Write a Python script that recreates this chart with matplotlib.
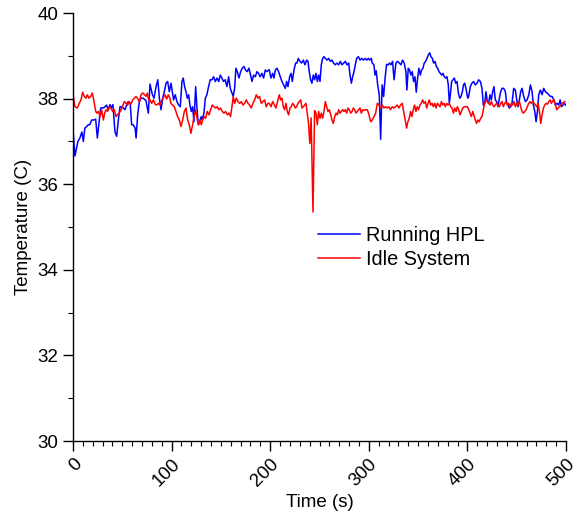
import matplotlib
matplotlib.use("Agg")
import matplotlib.pyplot as plt
from matplotlib.ticker import MultipleLocator

plt.rcParams['font.family'] = ['Liberation Sans', 'DejaVu Sans']

# temperature log while running HPL
time_hpl = [0, 2, 5, 7, 9, 10.5, 12, 14, 15.5, 17, 19, 21, 23, 24.7, 26.5, 28, 29, 31, 32.5, 34,
            35.8, 37.5, 39, 40.5, 42.6, 44.3, 46, 47.7, 49.4, 51, 52.7, 54.4, 56, 58, 59.5, 61, 63, 64,
            65.6, 67.3, 69, 71.3, 74, 76.4, 78.1, 80.5, 82.2, 84.2, 86, 87.6, 89.3, 91, 92.6, 94.3, 96,
            97.7, 99.4, 101, 102, 103.7, 105.4, 107.1, 108.8, 110.5, 111.8, 113.2, 114.9, 115.9, 117.3,
            118.6, 120, 121.3, 122.7, 124.4, 125.7, 127.1, 128.4, 130.1, 131.1, 132.8, 134.2, 135.8,
            137.5, 139.2, 140.9, 142.6, 144.3, 146, 147.7, 149.4, 151, 152.7, 154.4, 156.1, 157.8,
            159.5, 161.2, 162.5, 163.9, 165.2, 166.6, 168.3, 170, 171.7, 173.4, 175, 176.7, 178.4,
            180.1, 181.5, 183.2, 184.9, 186.5, 188.2, 189.9, 191.6, 193.3, 195, 196.7, 198.4, 199.1,
            200.8, 202.5, 203.8, 205.2, 206.9, 208.5, 210.2, 211.9, 213.6, 215.3, 216.7, 218, 219.7,
            221.1, 222.4, 224.1, 225.8, 227.1, 228.5, 230.2, 231.9, 233.6, 235.2, 236.9, 238.3, 239.6,
            241, 242.3, 243.7, 245, 246.4, 247.8, 249.1, 250.5, 251.8, 253.2, 254.5, 255.9, 257.6,
            259.3, 261, 262.6, 264.3, 266, 267.7, 269.4, 271.1, 272.8, 274.5, 276.2, 277.9, 279.6,
            280.9, 282.3, 283.6, 285, 286.3, 287.7, 289.4, 291.1, 292.8, 294.5, 296.2, 297.9, 299.5,
            301, 302.5, 303.5, 305.2, 306.3, 307.5, 309, 310.6, 312, 313.5, 315, 316.5, 318, 319.7,
            321.1, 322.4, 324.1, 325.6, 327.5, 329.2, 330.9, 332.6, 334.2, 335.9, 337.6, 338.6, 340,
            341.3, 342.7, 344, 345.4, 346.8, 348.1, 349.5, 350.8, 352.2, 353.5, 354.9, 356.2, 357.6,
            359, 360.3, 361.7, 363, 364.4, 365.7, 367.1, 368.5, 369.8, 371.2, 372.5, 373.9, 375.2,
            376.6, 377.9, 379.3, 380.6, 381.6, 382.7, 384, 385.4, 386.7, 388.1, 389.5, 390.8, 392.2,
            393.5, 394.9, 396, 397.2, 398.5, 400.3, 401.3, 402.9, 404.6, 406.3, 408, 409.7, 411.4,
            413.1, 414.8, 416.1, 417.5, 418.8, 420.2, 421.5, 422.9, 424.2, 425.6, 426.9, 428.3, 429.6,
            431, 432.4, 433.7, 435.1, 436.8, 438.5, 439.8, 441.2, 442.5, 443.9, 445.2, 446.9, 448.6,
            450, 451.3, 452.7, 454, 455.4, 457.1, 458.8, 460.5, 462.2, 463.9, 465.6, 466.9, 468.3,
            469.6, 471, 472.3, 474, 475.7, 477.4, 479.1, 480.8, 482.5, 484.2, 485.9, 487.6, 489.2,
            490.9, 492.6, 494, 495.3, 497, 498.4, 499.7]
temp_hpl = [37.27, 36.66, 37.00, 37.08, 37.22, 37.00, 37.31, 37.35, 37.39, 37.39, 37.50, 37.50, 37.52,
            37.08, 37.46, 37.77, 37.79, 37.78, 37.81, 37.85, 37.74, 37.86, 37.79, 37.86, 37.22, 37.12,
            37.50, 37.81, 37.81, 37.78, 37.74, 37.85, 37.93, 37.89, 37.39, 37.39, 37.31, 37.08, 37.62,
            37.93, 38.01, 38.01, 37.95, 37.66, 38.34, 38.09, 38.01, 38.28, 38.44, 38.01, 37.74, 38.01,
            38.16, 38.36, 38.40, 38.16, 38.36, 38.13, 37.97, 38.09, 37.93, 37.85, 37.81, 38.40, 38.48,
            38.28, 38.13, 38.01, 38.09, 37.85, 37.70, 37.81, 37.46, 38.28, 37.78, 37.39, 37.46, 37.58,
            37.50, 37.66, 38.01, 38.09, 38.28, 38.44, 38.44, 38.51, 38.40, 38.48, 38.40, 38.55, 38.48,
            38.40, 38.44, 38.28, 38.51, 38.24, 38.13, 38.05, 38.24, 38.71, 38.63, 38.48, 38.63, 38.71,
            38.75, 38.67, 38.63, 38.71, 38.55, 38.40, 38.55, 38.51, 38.63, 38.59, 38.51, 38.59, 38.48,
            38.67, 38.63, 38.67, 38.67, 38.48, 38.59, 38.48, 38.67, 38.71, 38.63, 38.51, 38.40, 38.32,
            38.24, 38.40, 38.28, 38.51, 38.59, 38.40, 38.67, 38.83, 38.83, 38.94, 38.87, 38.83, 38.90,
            38.79, 38.90, 38.87, 38.63, 38.44, 38.36, 38.55, 38.44, 38.59, 38.40, 38.55, 38.40, 38.79,
            38.94, 38.98, 38.94, 38.90, 38.94, 38.87, 38.90, 38.83, 38.79, 38.83, 38.79, 38.87, 38.79,
            38.83, 38.87, 38.79, 38.83, 38.55, 38.36, 38.51, 38.63, 38.79, 38.94, 38.98, 38.90, 38.94,
            38.90, 38.94, 38.90, 38.94, 38.90, 38.94, 38.83, 38.79, 38.55, 38.65, 38.32, 38.09, 37.05,
            38.32, 38.05, 38.48, 38.80, 38.79, 38.83, 38.79, 38.87, 38.44, 38.83, 38.87, 38.83, 38.79,
            38.90, 38.83, 38.63, 38.20, 38.71, 38.67, 38.55, 38.63, 38.40, 38.51, 38.15, 38.48, 38.71,
            38.55, 38.67, 38.71, 38.83, 38.87, 38.94, 39.02, 39.07, 38.98, 38.94, 38.83, 38.87, 38.75,
            38.71, 38.63, 38.59, 38.55, 38.59, 38.51, 38.48, 38.51, 38.32, 37.90, 38.09, 38.40, 38.44,
            38.48, 38.36, 38.40, 38.13, 38.01, 38.05, 38.16, 38.32, 38.36, 38.24, 38.01, 38.05, 38.28,
            38.36, 38.40, 38.32, 38.36, 38.44, 38.40, 38.24, 37.85, 37.89, 38.16, 37.93, 37.89, 38.09,
            37.97, 38.16, 38.28, 37.97, 37.93, 37.81, 38.01, 38.16, 38.24, 38.24, 38.16, 37.89, 37.85,
            37.78, 37.81, 37.89, 38.24, 38.20, 37.97, 37.81, 37.97, 38.16, 38.24, 38.05, 37.93, 37.97,
            38.09, 38.32, 38.16, 37.85, 37.70, 37.46, 37.70, 38.09, 38.20, 38.09, 38.24, 38.16, 38.13,
            38.09, 38.05, 38.05, 37.97, 37.85, 37.89, 37.85, 37.97, 37.81, 37.85, 37.89, 37.85]

# temperature log of the idle system
time_idle = [0, 2, 4.4, 6.4, 8.1, 9.8, 11.5, 13.2, 14.5, 16.2, 17.9, 19.6, 21.3, 23, 24, 25.7, 27.4, 29,
             30.8, 32.1, 33.5, 35.2, 36.8, 38.5, 40.2, 41.9, 43.6, 44.9, 46.6, 48.3, 50, 52.1, 53.8,
             55.4, 57.1, 58.8, 60.5, 62.2, 63.9, 65.6, 67.3, 69, 70.7, 72.4, 74, 75.4, 76.7, 78.1, 79.8,
             81.5, 83.2, 84.9, 86.6, 88.2, 89.9, 91.6, 93.3, 95, 96.6, 98.3, 99.3, 101, 102.7, 104.4,
             106.1, 107.8, 109.5, 111.2, 112.9, 114.6, 116.3, 117.9, 119.6, 121.3, 122.7, 124.4, 126.1,
             127.4, 128.8, 130.1, 131.5, 133.1, 134.5, 136.2, 137.9, 139.6, 141.3, 143, 144.6, 146.3,
             148, 149.7, 151.4, 153.1, 154.8, 156.5, 158.2, 159.8, 161.2, 162.5, 163.9, 165.6, 167.3,
             169, 170.7, 172.4, 174.1, 175.7, 177.4, 179.1, 180.8, 182.5, 184.2, 185.9, 187.5, 189.2,
             190.9, 192.6, 194.3, 196, 197.7, 199.1, 200.8, 202.5, 204.2, 205.8, 207.5, 209.2, 210.6,
             211.9, 213.3, 214.6, 216, 217.3, 218.7, 220, 221.4, 222.7, 224.1, 225.4, 226.8, 228.1,
             229.5, 230.9, 232.2, 233.6, 234.9, 236.3, 237.6, 238.8, 240.2, 241.5, 243.4, 245, 246.4,
             247.8, 249.1, 250.5, 251.8, 253.2, 254.5, 255.9, 257.2, 258.6, 260, 261.3, 262.7, 264,
             265.4, 266.7, 268.1, 269.4, 270.8, 272.1, 273.5, 274.8, 276.2, 277.5, 278.9, 280.2, 281.6,
             283, 284.3, 285.7, 287, 288.4, 289.7, 291.1, 292.4, 293.8, 295.1, 296.5, 298.5, 300.2,
             301.9, 303.5, 305.2, 306.9, 308.6, 310.2, 311.9, 313.6, 315.3, 317, 318.7, 320.4, 322,
             323.7, 325.4, 327.1, 328.8, 330.5, 332.2, 333.9, 335.6, 336.9, 338.3, 339.6, 341, 342.3,
             343.7, 345.1, 346.4, 347.8, 349.1, 350.5, 351.9, 353.2, 354.6, 355.9, 357.3, 358.7, 360,
             361.4, 362.7, 364.1, 365.4, 366.8, 368.2, 369.5, 370.9, 372.2, 373.6, 374.9, 376.3, 377.6,
             379, 380.3, 381.7, 383, 384.4, 385.8, 387.1, 388.5, 389.8, 391.2, 392.5, 393.9, 395.3,
             396.6, 399.9, 401.3, 402.7, 404, 405.4, 406.9, 408, 409.3, 410.7, 412, 413.4, 414.8, 416.1,
             417.5, 418.8, 420.2, 421.5, 422.9, 424.2, 425.6, 426.9, 428.3, 429.6, 431, 432.4, 433.7,
             435.1, 436.4, 437.8, 439.1, 440.5, 441.8, 443.2, 444.6, 445.9, 447.3, 448.6, 450, 451.3,
             452.7, 454, 455.4, 456.8, 458.1, 459.5, 460.8, 462.2, 463.5, 464.9, 466.2, 467.6, 469,
             470.3, 471.7, 473, 474.4, 475.7, 477.1, 478.4, 479.8, 481.2, 482.5, 483.9, 485.2, 486.6,
             487.9, 489.3, 490.6, 492, 493.3, 494.7, 496, 497.4, 498.8]
temp_idle = [38.10, 37.81, 37.78, 37.89, 37.97, 38.15, 38.05, 38.01, 38.09, 38.01, 38.05, 38.13, 37.93,
             37.71, 37.66, 37.70, 37.58, 37.74, 37.50, 37.66, 37.74, 37.70, 37.81, 37.78, 37.70, 37.74,
             37.58, 37.62, 37.66, 37.71, 37.81, 37.93, 37.89, 37.85, 37.93, 37.87, 37.97, 38.01, 38.05,
             38.00, 37.93, 38.09, 38.13, 38.10, 38.05, 38.13, 37.97, 37.97, 37.89, 37.97, 37.87, 37.85,
             37.89, 37.85, 37.95, 38.02, 38.09, 37.99, 38.09, 38.01, 37.89, 37.85, 37.81, 37.70, 37.58,
             37.50, 37.35, 37.50, 37.70, 37.78, 37.50, 37.39, 37.19, 37.39, 37.58, 37.74, 37.50, 37.39,
             37.50, 37.39, 37.50, 37.58, 37.54, 37.70, 37.62, 37.74, 37.85, 37.81, 37.78, 37.81, 37.74,
             37.78, 37.70, 37.66, 37.70, 37.62, 37.66, 37.58, 37.81, 38.05, 37.89, 38.01, 37.93, 37.89,
             37.93, 37.85, 37.89, 37.97, 37.89, 37.85, 37.78, 37.89, 37.97, 38.09, 38.01, 38.05, 37.89,
             37.93, 37.97, 37.81, 37.89, 37.89, 37.81, 37.93, 37.85, 37.78, 37.93, 38.09, 37.97, 38.01,
             37.81, 37.74, 37.89, 37.70, 37.62, 37.78, 37.81, 37.89, 37.85, 37.78, 37.81, 37.89, 37.93,
             37.97, 37.78, 37.81, 37.85, 37.89, 37.66, 37.43, 36.95, 37.55, 35.35, 37.72, 37.66, 37.39,
             37.70, 37.54, 37.66, 37.54, 37.70, 37.93, 37.81, 37.70, 37.74, 37.62, 37.50, 37.42, 37.58,
             37.66, 37.62, 37.74, 37.66, 37.70, 37.74, 37.70, 37.74, 37.66, 37.78, 37.74, 37.66, 37.70,
             37.78, 37.74, 37.66, 37.70, 37.74, 37.78, 37.66, 37.74, 37.72, 37.74, 37.74, 37.62, 37.46,
             37.50, 37.58, 37.66, 37.89, 37.85, 37.78, 37.85, 37.78, 37.81, 37.78, 37.81, 37.74, 37.81,
             37.78, 37.81, 37.85, 37.78, 37.85, 37.89, 37.66, 37.50, 37.31, 37.46, 37.54, 37.70, 37.58,
             37.74, 37.85, 37.70, 37.81, 37.74, 37.85, 37.89, 37.97, 37.89, 37.93, 37.78, 37.89, 37.97,
             37.85, 37.89, 37.81, 37.89, 37.78, 37.89, 37.85, 37.81, 37.93, 37.85, 37.89, 37.81, 37.89,
             37.85, 37.89, 37.81, 37.78, 37.66, 37.78, 37.70, 37.81, 37.74, 37.62, 37.70, 37.78, 37.81,
             37.81, 37.74, 37.66, 37.58, 37.70, 37.58, 37.50, 37.42, 37.50, 37.46, 37.54, 37.58, 37.74,
             37.89, 37.97, 37.93, 37.89, 37.85, 37.93, 37.85, 37.81, 37.85, 37.89, 37.85, 37.81, 37.89,
             37.93, 37.81, 37.89, 37.93, 37.85, 37.89, 37.81, 37.89, 37.85, 37.93, 37.81, 37.89, 37.85,
             37.93, 37.81, 37.70, 37.66, 37.70, 37.74, 37.81, 37.89, 37.93, 37.89, 37.93, 37.89, 37.85,
             37.81, 37.89, 37.70, 37.42, 37.62, 37.78, 37.85, 37.89, 37.87, 37.93, 37.97, 37.89, 37.95,
             37.97, 37.85, 37.74, 37.78, 37.81, 37.85, 37.89, 37.91, 37.93]

fig = plt.figure(figsize=(5.77, 5.14), dpi=100)
ax = fig.add_axes([0.1265, 0.142, 0.8545, 0.8327])

ax.plot(time_hpl, temp_hpl, color='#0000ff', lw=1.1, label='Running HPL')
ax.plot(time_idle, temp_idle, color='#ff0000', lw=1.1, label='Idle System')

ax.set_xlim(0, 500)
ax.set_ylim(30, 40)
ax.xaxis.set_major_locator(MultipleLocator(100))
ax.xaxis.set_minor_locator(MultipleLocator(10))
ax.yaxis.set_major_locator(MultipleLocator(2))
ax.yaxis.set_minor_locator(MultipleLocator(1))

for side in ('top', 'right'):
    ax.spines[side].set_visible(False)
for side in ('left', 'bottom'):
    ax.spines[side].set_linewidth(1.0)

ax.tick_params(which='major', direction='out', length=7, width=1.0, labelsize=13.5)
ax.tick_params(which='minor', direction='out', length=3.5, width=0.8)
for lbl in ax.get_xticklabels():
    lbl.set_rotation(45)
    lbl.set_ha('right')
    lbl.set_va('top')
    lbl.set_rotation_mode('anchor')

ax.set_xlabel('Time (s)', fontsize=13.5, labelpad=3)
ax.set_ylabel('Temperature (C)', fontsize=13.5, labelpad=4)

ax.legend(loc='upper left', bbox_to_anchor=(0.497, 0.503), frameon=False, fontsize=14.3,
          borderpad=0, borderaxespad=0, handlelength=2.1, handletextpad=0.3, labelspacing=0.25)

fig.savefig('out.png', dpi=100)
